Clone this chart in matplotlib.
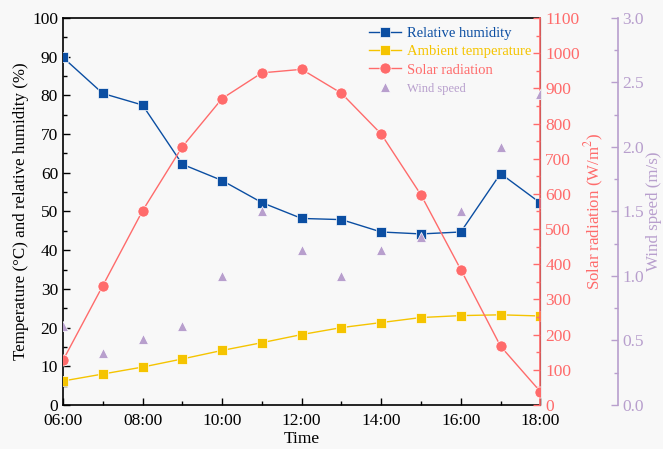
import numpy as np
import matplotlib
matplotlib.use('Agg')
import matplotlib.pyplot as plt
from matplotlib.ticker import MultipleLocator, FormatStrFormatter

plt.rcParams['font.family'] = ['Liberation Serif', 'DejaVu Serif']
plt.rcParams['mathtext.fontset'] = 'stix'

# Data
hours = [6, 7, 8, 9, 10, 11, 12, 13, 14, 15, 16, 17, 18]
humidity = [89.8, 80.5, 77.5, 62.2, 58.0, 52.3, 48.2, 47.9, 44.7, 44.2, 44.7, 59.8, 52.2]
temperature = [6.2, 8.0, 9.8, 11.9, 14.1, 16.1, 18.2, 20.0, 21.3, 22.6, 23.1, 23.3, 23.0]
solar = [127, 339, 552, 734, 871, 944, 954, 886, 770, 597, 385, 167, 38]
wind = [0.61, 0.40, 0.51, 0.61, 1.00, 1.50, 1.20, 1.00, 1.20, 1.30, 1.50, 2.00, 2.41]
tick_hours = [6, 8, 10, 12, 14, 16, 18]
tick_labels = ['06:00', '08:00', '10:00', '12:00', '14:00', '16:00', '18:00']

c_rh = '#0b4ea2'
c_temp = '#f5c400'
c_sun = '#ff6b6b'
c_wind = '#b89fcd'
bg = '#f8f8f8'

fig = plt.figure(figsize=(6.63, 4.49), dpi=100, facecolor=bg)
ax = fig.add_axes([0.095, 0.098, 0.72, 0.862], facecolor=bg)
ax2 = ax.twinx()
ax3 = ax.twinx()
ax3.spines['right'].set_position(('axes', 1.162))

l1, = ax.plot(hours, humidity, color=c_rh, lw=1, marker='s', ms=6.5,
              mec='white', mew=0.5, label='Relative humidity', zorder=5)
l2, = ax.plot(hours, temperature, color=c_temp, lw=1, marker='s', ms=6.5,
              mec='white', mew=0.5, label='Ambient temperature', zorder=5)
l3, = ax2.plot(hours, solar, color=c_sun, lw=1, marker='o', ms=8,
               mec='white', mew=0.5, label='Solar radiation', zorder=5)
l4, = ax3.plot(hours, wind, color=c_wind, lw=0, marker='^', ms=7.5,
               mec='white', mew=0.5, label='Wind speed', zorder=5)

ax.set_xlim(6, 18)
ax.set_ylim(0, 100)
ax2.set_ylim(0, 1100)
ax3.set_ylim(0, 3.0)

ax.set_xticks(tick_hours)
ax.set_xticklabels(tick_labels)
ax.xaxis.set_minor_locator(MultipleLocator(1))
ax.yaxis.set_major_locator(MultipleLocator(10))
ax.yaxis.set_minor_locator(MultipleLocator(5))
ax2.yaxis.set_major_locator(MultipleLocator(100))
ax2.yaxis.set_minor_locator(MultipleLocator(50))
ax3.yaxis.set_major_locator(MultipleLocator(0.5))
ax3.yaxis.set_minor_locator(MultipleLocator(0.25))
ax3.yaxis.set_major_formatter(FormatStrFormatter('%.1f'))

ax.tick_params(which='both', direction='in', labelsize=12.5, top=False, right=False)
ax.tick_params(axis='x', pad=6)
ax.tick_params(which='major', length=5, width=1)
ax.tick_params(which='minor', length=3, width=1)
ax2.tick_params(which='both', direction='in', colors=c_sun, labelsize=12.5)
ax2.tick_params(which='major', length=5, width=1)
ax2.tick_params(which='minor', length=3, width=1)
ax3.tick_params(which='both', direction='in', colors=c_wind, labelsize=12.5)
ax3.tick_params(which='major', length=5, width=1)
ax3.tick_params(which='minor', length=3, width=1)

for s in ['left', 'bottom', 'top']:
    ax.spines[s].set_linewidth(1.2)
ax2.spines['right'].set_color(c_sun)
ax2.spines['right'].set_linewidth(1.2)
for s in ['left', 'top', 'bottom']:
    ax2.spines[s].set_visible(False)
    ax3.spines[s].set_visible(False)
ax3.spines['right'].set_color(c_wind)
ax3.spines['right'].set_linewidth(1.2)

ax.set_xlabel('Time', fontsize=12.5, labelpad=1)
ax.set_ylabel('Temperature (°C) and relative humidity (%)', fontsize=12.2, labelpad=2)
ax2.set_ylabel('Solar radiation (W/m$^2$)', fontsize=12.2, color=c_sun, labelpad=2)
ax3.set_ylabel('Wind speed (m/s)', fontsize=12.2, color=c_wind, labelpad=1)

leg = ax.legend(handles=[l1, l2, l3, l4], loc='upper right', frameon=False,
                fontsize=10.5, handlelength=2.2, handletextpad=0.4,
                borderaxespad=0.2, labelspacing=0.35, bbox_to_anchor=(1.0, 1.0))
for txt, col in zip(leg.get_texts(), [c_rh, c_temp, c_sun, c_wind]):
    txt.set_color(col)
leg.get_texts()[3].set_fontsize(9)

fig.savefig('out.png', dpi=100, facecolor=bg)
